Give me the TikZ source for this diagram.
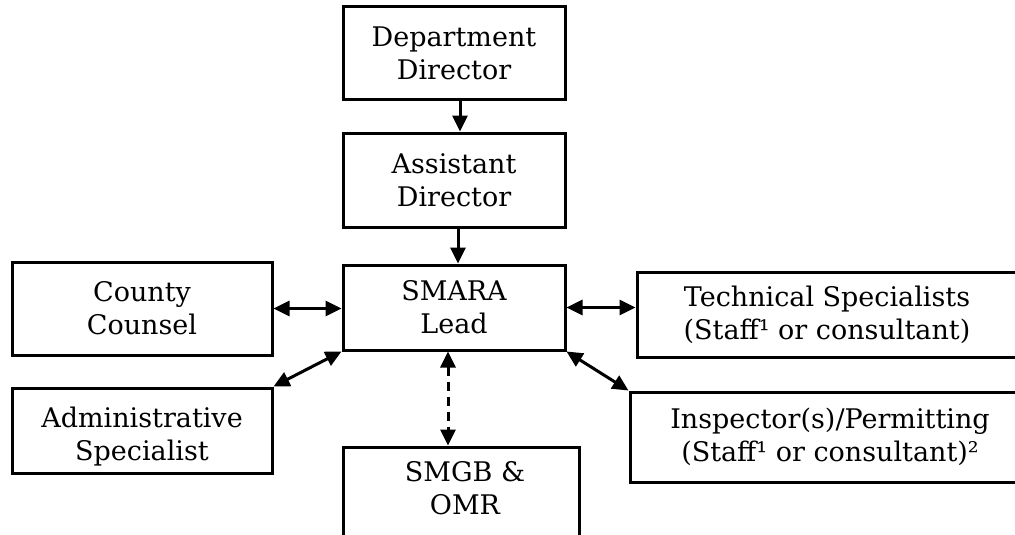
\documentclass[tikz,border=0pt]{standalone}
\usepackage{fontspec}
\setmainfont{DejaVu Serif}
\usetikzlibrary{arrows.meta}

\tikzset{
  orgbox/.style={draw=black, line width=3pt, fill=white, inner sep=0pt,
    align=center, font=\fontsize{27}{33}\selectfont},
  boxtext/.style={inner sep=0pt, align=center, font=\fontsize{27}{33}\selectfont},
  tip/.style={Triangle[length=16pt,width=15pt]},
  link/.style={line width=3pt, -{Triangle[length=16pt,width=15pt]}},
  twoway/.style={line width=3pt, {Triangle[length=16pt,width=15pt]}-{Triangle[length=16pt,width=15pt]}},
  softlink/.style={twoway, dash pattern=on 9pt off 6pt}
}

\begin{document}
\begin{tikzpicture}[x=1pt,y=-1pt]
  \useasboundingbox (0,0) rectangle (1015,535);
  \clip (0,0) rectangle (1015,535);

  % chain of command
  \node[orgbox, minimum width=222pt, minimum height=92pt] (dd) at (454,53)
    {Department\\Director};
  \node[orgbox, minimum width=222pt, minimum height=94pt] (ad) at (454,180)
    {Assistant\\Director};
  \node[orgbox, minimum width=222pt, minimum height=85pt] (smara) at (454,307.5)
    {SMARA\\Lead};

  % side units
  \node[orgbox, minimum width=260pt, minimum height=93pt] (cc) at (142,308.5)
    {County\\Counsel};
  \node[orgbox, minimum width=260pt, minimum height=85pt] (admin) at (142,430.5) {};
  \node[boxtext] (admintxt) at (142,437) {Administrative\\Specialist};
  \node[orgbox, minimum width=380pt, minimum height=85pt] (tech) at (827,314.5)
    {Technical Specialists\\(Staff¹ or consultant)};
  \node[orgbox, minimum width=400pt, minimum height=90pt] (insp) at (830,437)
    {Inspector(s)/Permitting\\(Staff¹ or consultant)²};

  % state agencies
  \node[orgbox, minimum width=236pt, minimum height=130pt] (smgb) at (461,512) {};
  \node[boxtext] (smgbtxt) at (465,488) {SMGB \&\\OMR};

  % connectors
  \draw[link] ([xshift=6pt]dd.south) -- ([xshift=6pt]ad.north);
  \draw[link] ([xshift=4pt]ad.south) -- ([xshift=4pt]smara.north);
  \draw[twoway] (cc.east) -- (cc.east -| smara.west);
  \draw[twoway] (smara.east) -- (smara.east -| tech.west);
  \draw[twoway] (admin.north east) -- (smara.south west);
  \draw[twoway] (insp.north west) -- (smara.south east);
  \draw[softlink] ([xshift=-6pt]smara.south) -- ([xshift=-6pt]smara.south |- smgb.north);
\end{tikzpicture}
\end{document}
